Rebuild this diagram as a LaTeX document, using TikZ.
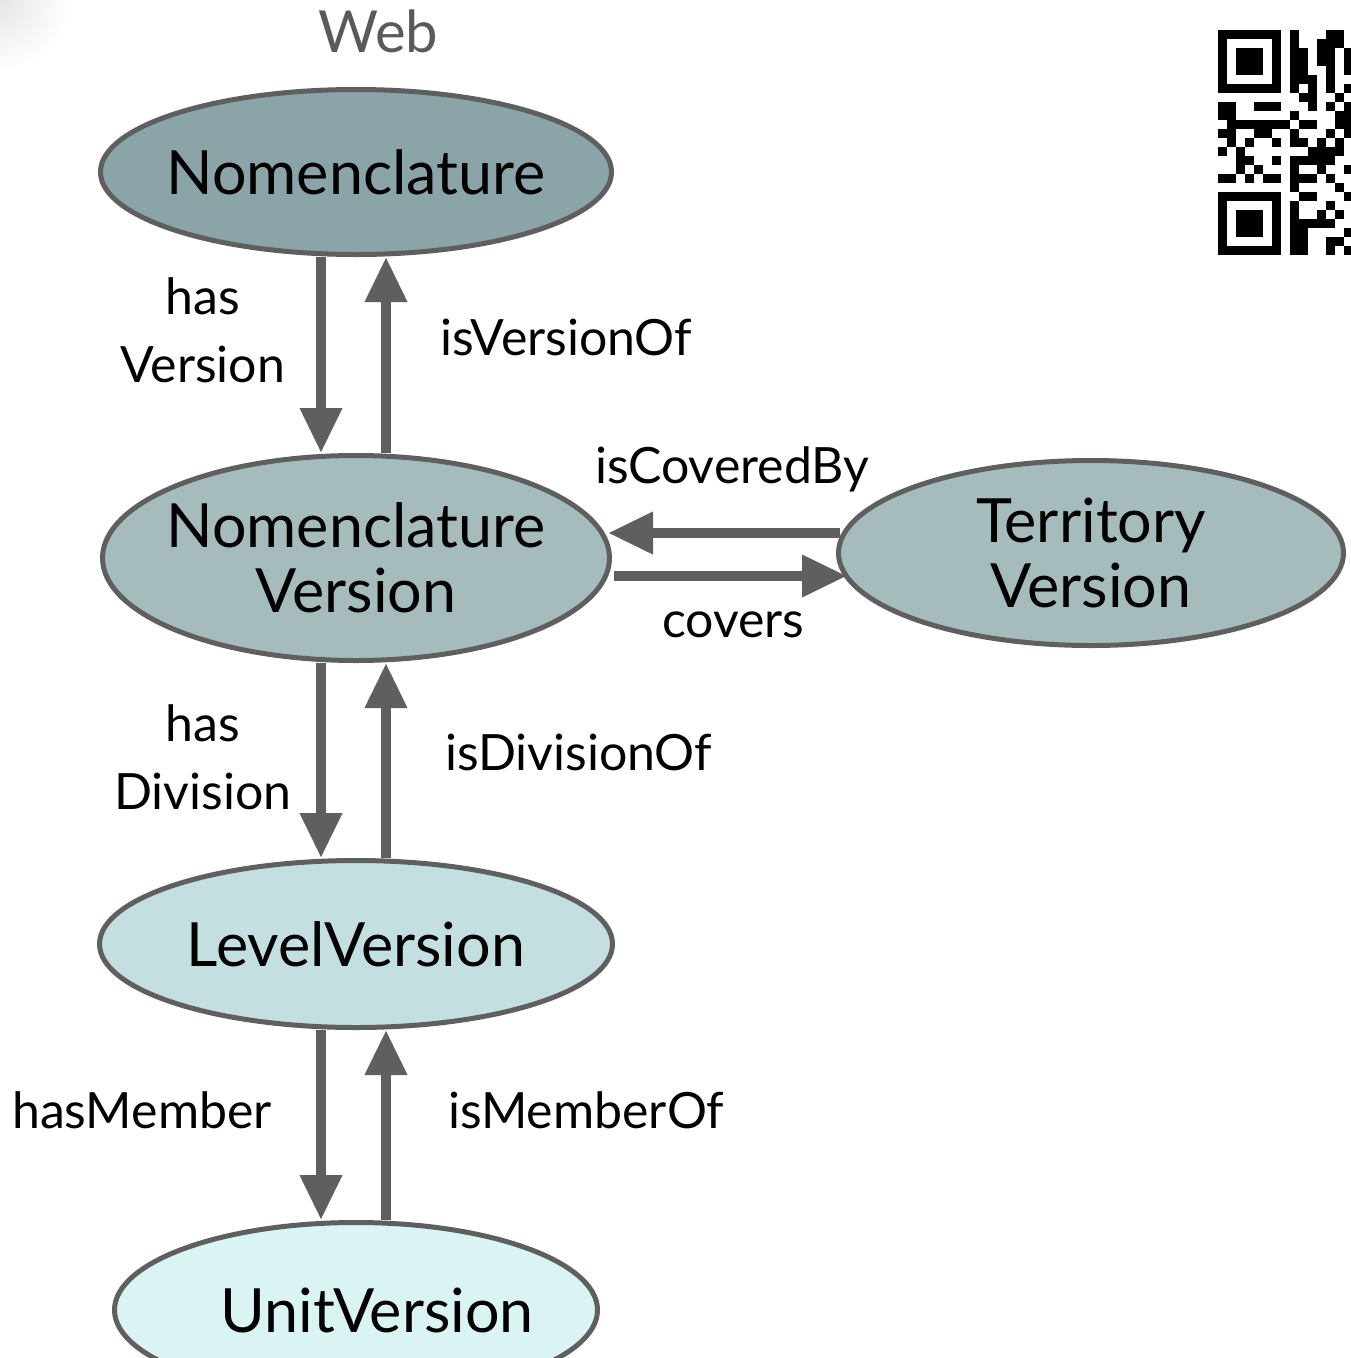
\documentclass[tikz,border=0pt]{standalone}
\usepackage{fontspec}
\setmainfont{Lato}
\usetikzlibrary{shapes.geometric,arrows.meta}
\definecolor{edgegray}{HTML}{5F5F5F}
\definecolor{webgray}{HTML}{5A5A5A}
\definecolor{nomfill}{HTML}{8AA4A8}
\definecolor{verfill}{HTML}{A6BCBC}
\definecolor{levfill}{HTML}{C4DFE0}
\definecolor{unitfill}{HTML}{DAF4F3}
\begin{document}
\begin{tikzpicture}[x=1pt,y=-1pt,
  ell/.style={ellipse, draw=edgegray, line width=5pt, inner sep=0pt},
  ntext/.style={inner sep=0pt, align=center, font=\fontsize{61}{65}\selectfont},
  arr/.style={draw=edgegray, line width=10pt, -{Triangle[width=40pt,length=45pt]}},
  lbl/.style={font=\fontsize{50}{68}\selectfont, inner sep=0pt, align=center},
  qrcell/.style={fill=black}
]
\useasboundingbox (0,0) rectangle (1351,1358);
\fill[white] (0,0) rectangle (1351,1358);
\shade[inner color=black!10, outer color=white] (0,0) circle (70);

% title
\node[font=\fontsize{58}{60}\selectfont, text=webgray, anchor=base west, inner sep=0pt] (web) at (318,52) {Web};

% QR code (partially visible)
\begin{scope}
\clip (1218,30) rectangle (1351,255);
\foreach \r/\cs in {
  0/{0,1,2,3,4,5,6,8,12,13},
  1/{0,6,8,11,12,13},
  2/{0,2,3,4,6,8,9,11,12,14},
  3/{0,2,3,4,6,8,9,11,12,14},
  4/{0,2,3,4,6,8,9,12,14},
  5/{0,6,8,9,10,12},
  6/{0,1,2,3,4,5,6,8,10,12,14},
  7/{9,10,13},
  8/{0,1,4,5,6,10,12,14},
  9/{0,1,8,13,14},
  10/{1,2,3,4,5,6,7,9,10,13,14},
  11/{0,1,4,5,8,12,14},
  12/{1,3,6,8,9,11,13},
  13/{0,2,10,11,12,13},
  14/{2,3,6,8,9,10,11,12},
  15/{2,4,8,11,14},
  16/{0,1,3,5,6,8,9,10,12},
  17/{8,13},
  18/{0,1,2,3,4,5,6,9,10,14},
  19/{0,6,8,12},
  20/{0,2,3,4,6,8,11,13},
  21/{0,2,3,4,6,8,9,10,11,12},
  22/{0,2,3,4,6,8,9,14},
  23/{0,6,8,9,12,13},
  24/{0,1,2,3,4,5,6,8,9,12,14}}{
  \foreach \c in \cs {
    \fill[qrcell] (1218+9*\c,30+9*\r) rectangle ++(9.3,9.3);
  }
}
\end{scope}

% ellipses
\node[ell, fill=nomfill, minimum width=511pt, minimum height=165pt] (nom) at (356,172) {};
\node[ntext] (nomt) at (nom.center) {Nomenclature};
\node[ell, fill=verfill, minimum width=507pt, minimum height=205pt] (nomv) at (356,558) {};
\node[ntext] (nomvt) at (nomv.center) {Nomenclature\\Version};
\node[ell, fill=verfill, minimum width=505pt, minimum height=185pt] (terr) at (1091,553) {};
\node[ntext] (terrt) at (terr.center) {Territory\\Version};
\node[ell, fill=levfill, minimum width=513pt, minimum height=167pt] (level) at (356,944) {};
\node[ntext] (levelt) at (level.center) {LevelVersion};
\node[ell, fill=unitfill, minimum width=483pt, minimum height=175pt] (unit) at (356,1310) {};
\node[ntext] (unitt) at (377,1310) {UnitVersion};

% connectors
\draw[arr] (nom.south -| 321,0) -- (nomv.north -| 321,0);
\draw[arr] (nomv.north -| 386,0) -- (nom.south -| 386,0);
\draw[arr] (nomv.south -| 321,0) -- (level.north -| 321,0);
\draw[arr] (level.north -| 386,0) -- (nomv.south -| 386,0);
\draw[arr] (level.south -| 321,0) -- (unit.north -| 321,0);
\draw[arr] (unit.north -| 386,0) -- (level.south -| 386,0);
\draw[arr] ([xshift=4pt]terr.west |- 0,533) -- ([xshift=-4pt]nomv.east |- 0,533);
\draw[arr] ([xshift=2pt]nomv.east |- 0,576) -- ([xshift=11pt]terr.west |- 0,576);

% labels
\node[lbl] (lhasv) at (203,330) {has\\Version};
\node[lbl, anchor=base west] (lisv) at (440,355) {isVersionOf};
\node[lbl, anchor=base west] (lcovby) at (595,483) {isCoveredBy};
\node[lbl, anchor=base west] (lcov) at (662,637) {covers};
\node[lbl] (lhasd) at (203,757) {has\\Division};
\node[lbl, anchor=base west] (lisd) at (445,770) {isDivisionOf};
\node[lbl, anchor=base west] (lhasm) at (12,1128) {hasMember};
\node[lbl, anchor=base west] (lism) at (448,1128) {isMemberOf};
\end{tikzpicture}
\end{document}
